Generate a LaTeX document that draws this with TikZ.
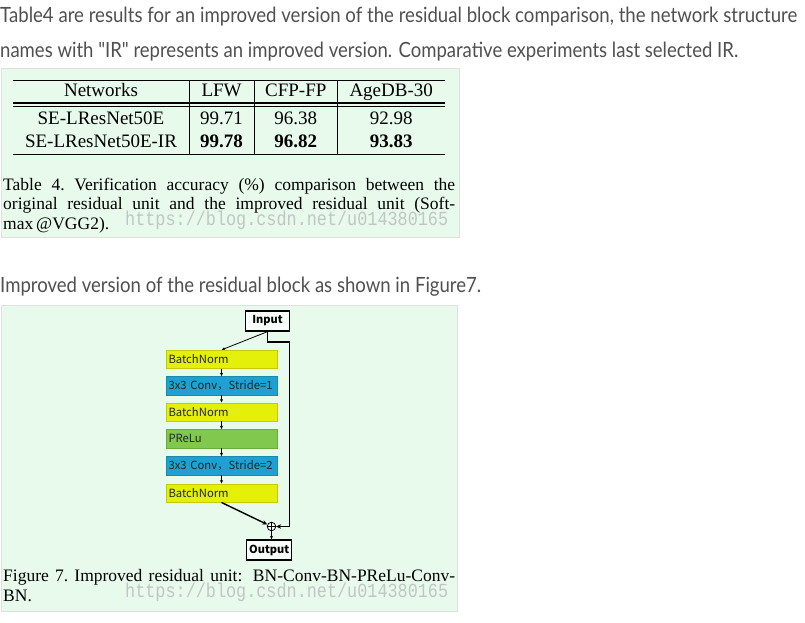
\documentclass[tikz,border=0pt]{standalone}
\usepackage{fontspec}
\usepackage{graphicx}
\setmainfont{Liberation Serif}
\newfontfamily\webfont{Lato}
\newfontfamily\cjk{Noto Sans CJK SC}
\newfontfamily\wmfont{Liberation Mono}
\usetikzlibrary{arrows.meta}
\definecolor{mint}{RGB}{232,250,236}
\definecolor{webgray}{RGB}{80,80,80}
\definecolor{byellow}{RGB}{228,240,10}
\definecolor{bblue}{RGB}{30,160,210}
\definecolor{bgreen}{RGB}{128,200,78}
\definecolor{wmgray}{RGB}{192,198,196}
\tikzset{
  webtext/.style={anchor=base west,inner sep=0pt,text=webgray,font=\webfont\fontsize{21}{25}\selectfont},
  panel/.style={fill=mint,draw=black!12,line width=0.8pt},
  rule/.style={line width=1.1pt},
  cell/.style={anchor=base,inner sep=0pt,font=\fontsize{19}{22}\selectfont},
  capt/.style={anchor=base west,inner sep=0pt,font=\fontsize{17.5}{20}\selectfont},
  wm/.style={anchor=base west,inner sep=0pt,text=wmgray},
  layer/.style={draw=#1!85!black,line width=0.4pt,fill=#1,minimum width=111pt,minimum height=18.5pt,
    inner sep=0pt,text width=106pt,align=left,text=black!85,font=\cjk\fontsize{11.3}{13}\selectfont},
  iobox/.style={draw=black,line width=1.3pt,fill=white!70!mint,minimum height=20pt,inner sep=1pt,
    font=\cjk\bfseries\fontsize{11}{13}\selectfont},
  sarrow/.style={-{Stealth[length=3.5pt,width=3pt]},line width=0.8pt},
  barrow/.style={-{Stealth[length=5pt,width=4.5pt]},line width=1.4pt},
}
\begin{document}
\begin{tikzpicture}[x=1pt,y=-1pt]
\useasboundingbox (0,0) rectangle (805,622);
\fill[white] (0,0) rectangle (805,622);
% web text
\node[webtext] (t1) at (0,22) {\resizebox{797pt}{\height}{Table4 are results for an improved version of the residual block comparison, the network structure}};
\node[webtext] (t2) at (0,57) {\resizebox{738pt}{\height}{names with "IR" represents an improved version. Comparative experiments last selected IR.}};
\node[webtext] (t3) at (0,292) {\resizebox{481pt}{\height}{Improved version of the residual block as shown in Figure7.}};
% table panel
\draw[panel] (1.5,68.5) rectangle (459,237.5);
\draw[rule] (12.7,80.5) -- (445,80.5);
\draw[rule] (12.7,103) -- (445,103);
\draw[rule] (12.7,106.3) -- (445,106.3);
\draw[rule] (12.7,154.5) -- (445,154.5);
\foreach \xx in {189,254.3,337.3}{\draw[line width=0.9pt] (\xx,80.5) -- (\xx,154.5);}
\node[cell] (h1) at (101,96.5) {Networks};
\node[cell] (h2) at (221.6,96.5) {LFW};
\node[cell] (h3) at (295.8,96.5) {CFP-FP};
\node[cell] (h4) at (391.2,96.5) {AgeDB-30};
\node[cell] (r11) at (101,124.5) {SE-LResNet50E};
\node[cell] (r12) at (221.6,124.5) {99.71};
\node[cell] (r13) at (295.8,124.5) {96.38};
\node[cell] (r14) at (391.2,124.5) {92.98};
\node[cell] (r21) at (101,147) {SE-LResNet50E-IR};
\node[cell] (r22) at (221.6,147) {\bfseries 99.78};
\node[cell] (r23) at (295.8,147) {\bfseries 96.82};
\node[cell] (r24) at (391.2,147) {\bfseries 93.83};
\node[capt] (c1) at (3,190) {\hbox to 452pt{Table\hfill 4.\hfill Verification\hfill accuracy\hfill (\%)\hfill comparison\hfill between\hfill the}};
\node[capt] (c2) at (3,209.5) {\hbox to 452pt{original\hfill residual\hfill unit\hfill and\hfill the\hfill improved\hfill residual\hfill unit\hfill (Soft-}};
\node[capt] (c3) at (3,229) {max\,@VGG2).};
\node[wm] (w1) at (125,225) {\resizebox{323pt}{14.5pt}{\wmfont https://blog.csdn.net/u014380165}};
% figure panel
\draw[panel] (1.5,305) rectangle (457,611.5);
\node[iobox,minimum width=44pt] (inp) at (267.5,321) {Input};
\node[layer=byellow] (l1) at (221.5,359.3) {BatchNorm};
\node[layer=bblue] (l2) at (221.5,385.6) {\mbox{3x3 Conv，Stride=1}};
\node[layer=byellow] (l3) at (221.5,412) {BatchNorm};
\node[layer=bgreen] (l4) at (221.5,438.6) {PReLu};
\node[layer=bblue] (l5) at (221.5,465.6) {\mbox{3x3 Conv，Stride=2}};
\node[layer=byellow] (l6) at (221.5,493) {BatchNorm};
\node[circle,draw=black,line width=0.8pt,fill=white,minimum size=8.5pt,inner sep=0pt] (sum) at (271.5,526.5) {};
\draw[line width=0.7pt] (sum.north) -- (sum.south) (sum.west) -- (sum.east);
\node[iobox,minimum width=45pt] (out) at (269.2,550) {Output};
\draw[sarrow] (inp.south) -- (l1.north);
\draw[sarrow] (l1.south) -- (l2.north);
\draw[sarrow] (l2.south) -- (l3.north);
\draw[sarrow] (l3.south) -- (l4.north);
\draw[sarrow] (l4.south) -- (l5.north);
\draw[sarrow] (l5.south) -- (l6.north);
\draw[barrow] (l6.south) -- (sum);
\coordinate (k1) at (267.7,342);
\coordinate (k2) at (289.3,342);
\draw[barrow] (inp.south -| k1) -- (k1) -- (k2) |- (sum.east);
\draw[sarrow] (sum.south) -- (sum.south |- out.north);
\node[capt] (f1) at (3,581.5) {\hbox to 452pt{Figure\hfill 7.\hfill Improved\hfill residual\hfill unit:\hfill\ BN-Conv-BN-PReLu-Conv-}};
\node[capt] (f2) at (3,601) {BN.};
\node[wm] (w2) at (125,597) {\resizebox{323pt}{14.5pt}{\wmfont https://blog.csdn.net/u014380165}};
\end{tikzpicture}
\end{document}
